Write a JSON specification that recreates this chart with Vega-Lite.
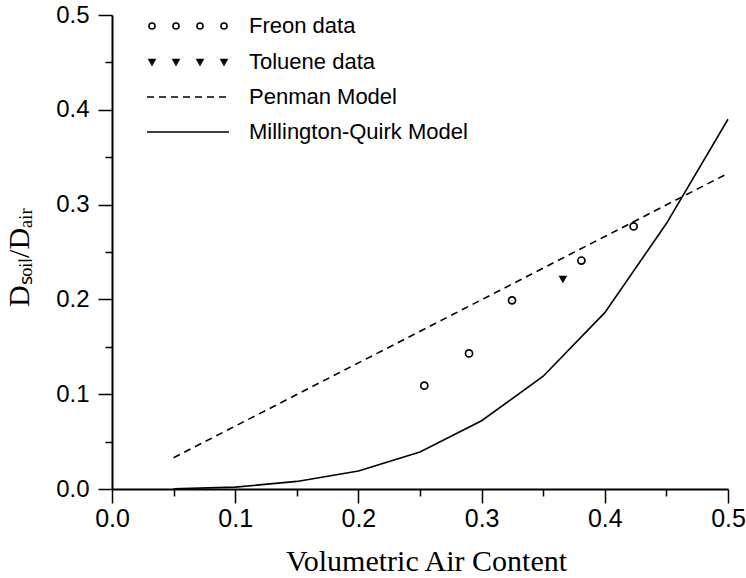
{
  "$schema": "https://vega.github.io/schema/vega-lite/v6.json",
  "width": 616,
  "height": 474,
  "autosize": "none",
  "padding": {"left": 112, "top": 15, "right": 18, "bottom": 89},
  "background": "white",
  "config": {
    "view": {"stroke": null},
    "legend": {
      "title": null,
      "orient": "none",
      "padding": 0,
      "symbolSize": 4,
      "symbolOffset": 30,
      "labelOffset": 50,
      "labelFont": "Liberation Sans",
      "labelFontSize": 22,
      "labelColor": "black",
      "labelLimit": 400,
      "symbolStrokeColor": "black",
      "symbolOpacity": 1
    }
  },
  "datasets": {
    "points": [
      {"air": 0.2535, "ratio": 0.109, "series": "Freon data"},
      {"air": 0.2898, "ratio": 0.143, "series": "Freon data"},
      {"air": 0.3247, "ratio": 0.199, "series": "Freon data"},
      {"air": 0.381, "ratio": 0.241, "series": "Freon data"},
      {"air": 0.4234, "ratio": 0.277, "series": "Freon data"},
      {"air": 0.366, "ratio": 0.221, "series": "Toluene data"}
    ],
    "models": [
      {"air": 0.05, "ratio": 0.033, "series": "Penman Model"},
      {"air": 0.5, "ratio": 0.333, "series": "Penman Model"},
      {"air": 0.05, "ratio": 0.0002, "series": "Millington-Quirk Model"},
      {"air": 0.1, "ratio": 0.002, "series": "Millington-Quirk Model"},
      {"air": 0.15, "ratio": 0.008, "series": "Millington-Quirk Model"},
      {"air": 0.2, "ratio": 0.019, "series": "Millington-Quirk Model"},
      {"air": 0.25, "ratio": 0.039, "series": "Millington-Quirk Model"},
      {"air": 0.3, "ratio": 0.072, "series": "Millington-Quirk Model"},
      {"air": 0.35, "ratio": 0.119, "series": "Millington-Quirk Model"},
      {"air": 0.4, "ratio": 0.186, "series": "Millington-Quirk Model"},
      {"air": 0.45, "ratio": 0.28, "series": "Millington-Quirk Model"},
      {"air": 0.5, "ratio": 0.39, "series": "Millington-Quirk Model"}
    ]
  },
  "encoding": {
    "x": {
      "field": "air",
      "type": "quantitative",
      "scale": {"domain": [0, 0.5], "nice": false, "zero": false},
      "axis": {
        "values": [0, 0.05, 0.1, 0.15, 0.2, 0.25, 0.3, 0.35, 0.4, 0.45, 0.5],
        "labelExpr": "abs(datum.value*10 - round(datum.value*10)) > 0.01 ? '' : format(datum.value, '.1f')",
        "tickSize": {"condition": {"test": "abs(datum.value*10 - round(datum.value*10)) > 0.01", "value": 7}, "value": 14},
        "grid": false,
        "domainColor": "black",
        "domainWidth": 2,
        "tickColor": "black",
        "tickWidth": 1.5,
        "labelFont": "Liberation Sans",
        "labelFontSize": 25,
        "labelColor": "black",
        "labelPadding": 3,
        "labelFlush": false,
        "labelOverlap": false,
        "title": "Volumetric Air Content",
        "titleFont": "Liberation Serif",
        "titleFontSize": 30,
        "titleFontWeight": "normal",
        "titleColor": "black",
        "titleX": 314,
        "titleY": 81,
        "titleAlign": "center",
        "titleBaseline": "alphabetic"
      }
    },
    "y": {
      "field": "ratio",
      "type": "quantitative",
      "scale": {"domain": [0, 0.5], "nice": false, "zero": false},
      "axis": {
        "values": [0, 0.05, 0.1, 0.15, 0.2, 0.25, 0.3, 0.35, 0.4, 0.45, 0.5],
        "labelExpr": "abs(datum.value*10 - round(datum.value*10)) > 0.01 ? '' : format(datum.value, '.1f')",
        "tickSize": {"condition": {"test": "abs(datum.value*10 - round(datum.value*10)) > 0.01", "value": 7}, "value": 14},
        "grid": false,
        "domainColor": "black",
        "domainWidth": 2,
        "tickColor": "black",
        "tickWidth": 1.5,
        "labelFont": "Liberation Sans",
        "labelFontSize": 24,
        "labelColor": "black",
        "labelPadding": 9,
        "labelFlush": false,
        "labelOverlap": false,
        "title": "Dₛₒᵢₗ/Dₐᵢᵣ",
        "titleFont": "Liberation Serif",
        "titleFontSize": 30,
        "titleFontWeight": "normal",
        "titleColor": "black",
        "titleX": -93,
        "titleY": 242,
        "titleAngle": -90,
        "titleAlign": "center",
        "titleBaseline": "middle"
      }
    }
  },
  "layer": [
    {
      "data": {"name": "models"},
      "transform": [{"filter": "datum.series === 'Penman Model'"}],
      "mark": {"type": "line", "color": "black", "strokeWidth": 1.6},
      "encoding": {
        "strokeDash": {
          "field": "series",
          "type": "nominal",
          "scale": {"domain": ["Penman Model"], "range": [[7, 5]]},
          "legend": {
            "legendX": 35,
            "legendY": 71,
            "symbolType": "M-41,0H41",
            "symbolFillColor": "transparent",
            "symbolStrokeWidth": 1.6
          }
        }
      }
    },
    {
      "data": {"name": "models"},
      "transform": [{"filter": "datum.series === 'Millington-Quirk Model'"}],
      "mark": {"type": "line", "strokeWidth": 1.6},
      "encoding": {
        "stroke": {
          "field": "series",
          "type": "nominal",
          "scale": {"domain": ["Millington-Quirk Model"], "range": ["black"]},
          "legend": {
            "legendX": 35,
            "legendY": 106,
            "symbolType": "M-41,0H41",
            "symbolFillColor": "transparent",
            "symbolStrokeWidth": 1.6
          }
        }
      }
    },
    {
      "data": {"name": "points"},
      "transform": [{"filter": "datum.series === 'Freon data'"}],
      "mark": {"type": "point", "shape": "circle", "size": 50, "strokeWidth": 1.7, "fill": "white", "opacity": 1},
      "encoding": {
        "color": {
          "field": "series",
          "type": "nominal",
          "scale": {"domain": ["Freon data"], "range": ["black"]},
          "legend": {
            "legendX": 35,
            "legendY": 0,
            "symbolType": "M-39,0a3,3 0 1,0 6,0a3,3 0 1,0 -6,0M-15,0a3,3 0 1,0 6,0a3,3 0 1,0 -6,0M9,0a3,3 0 1,0 6,0a3,3 0 1,0 -6,0M33,0a3,3 0 1,0 6,0a3,3 0 1,0 -6,0",
            "symbolFillColor": "white",
            "symbolStrokeWidth": 1.6
          }
        }
      }
    },
    {
      "data": {"name": "points"},
      "transform": [{"filter": "datum.series === 'Toluene data'"}],
      "mark": {"type": "point", "shape": "triangle-down", "size": 75, "filled": true, "opacity": 1},
      "encoding": {
        "fill": {
          "field": "series",
          "type": "nominal",
          "scale": {"domain": ["Toluene data"], "range": ["black"]},
          "legend": {
            "legendX": 35,
            "legendY": 36,
            "symbolType": "M-40,-3L-32,-3L-36,4ZM-16,-3L-8,-3L-12,4ZM8,-3L16,-3L12,4ZM32,-3L40,-3L36,4Z",
            "symbolStrokeWidth": 0.5
          }
        }
      }
    }
  ]
}
